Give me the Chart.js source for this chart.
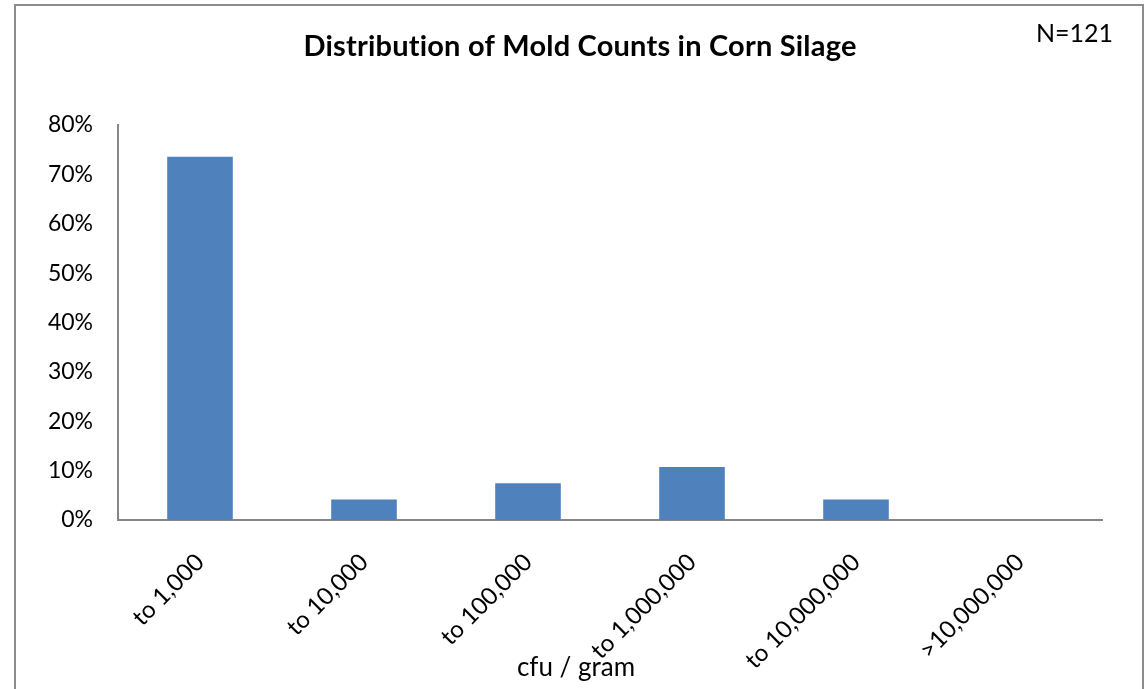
<!DOCTYPE html>
<html>
<head>
<meta charset="utf-8">
<script src="https://cdn.jsdelivr.net/npm/chart.js@4.4.1/dist/chart.umd.min.js"></script>
<style>
  html, body { margin: 0; padding: 0; background: #fff; overflow: hidden; }
  #wrap { width: 1146px; height: 689px; }
</style>
</head>
<body>
<div id="wrap"><canvas id="chart" width="1146" height="689"></canvas></div>
<script>
const categories = ["to 1,000", "to 10,000", "to 100,000", "to 1,000,000", "to 10,000,000", ">10,000,000"];
const percentages = [73.55, 4.13, 7.44, 10.74, 4.13, 0];
const yTicks = [0, 10, 20, 30, 40, 50, 60, 70, 80];
const chartTitle = "Distribution of Mold Counts in Corn Silage";
const sampleNote = "N=121";
const xAxisTitle = "cfu / gram";

const FONT = "Lato, 'Liberation Sans', sans-serif";
const AXIS_GRAY = "#868686";

// frame, title, N= note and x axis caption
const extras = {
  id: "extras",
  beforeDraw(chart) {
    const ctx = chart.ctx;
    ctx.save();
    ctx.fillStyle = "#fff";
    ctx.fillRect(0, 0, chart.width, chart.height);
    ctx.strokeStyle = "#8c8c8c";
    ctx.lineWidth = 2;
    ctx.strokeRect(15, 5, 1128, 720);
    ctx.restore();
  },
  afterDraw(chart) {
    const ctx = chart.ctx;
    ctx.save();
    ctx.fillStyle = "#000";
    ctx.textAlign = "center";
    ctx.textBaseline = "alphabetic";
    ctx.font = "bold 29px " + FONT;
    ctx.letterSpacing = "0.2px"; // keeps "ti" from joining
    ctx.fillText(chartTitle, 580, 56);
    ctx.letterSpacing = "0px";
    ctx.font = "25px " + FONT;
    ctx.textAlign = "left";
    ctx.fillText(sampleNote, 1036, 42);
    ctx.textAlign = "center";
    ctx.textBaseline = "middle";
    ctx.font = "26px " + FONT;
    ctx.fillText(xAxisTitle, 576, 668);
    ctx.restore();
  }
};

new Chart(document.getElementById("chart"), {
  type: "bar",
  data: {
    labels: categories,
    datasets: [{
      data: percentages,
      backgroundColor: "#4F81BD",
      barPercentage: 0.4,
      categoryPercentage: 1.0
    }]
  },
  options: {
    responsive: false,
    animation: false,
    layout: { padding: { left: 0, right: 44, top: 125, bottom: 0 } },
    plugins: {
      legend: { display: false },
      tooltip: { enabled: false },
      title: { display: false }
    },
    scales: {
      x: {
        grid: { display: false, drawTicks: false },
        border: { display: true, color: AXIS_GRAY, width: 2 },
        ticks: {
          color: "#000",
          font: { family: FONT, size: 24 },
          maxRotation: 45,
          minRotation: 45,
          padding: 28,
          autoSkip: false
        },
        afterFit(scale) { scale.height = 169; }
      },
      y: {
        min: 0,
        max: 80,
        grid: { display: false, drawTicks: false },
        border: { display: true, color: AXIS_GRAY, width: 2 },
        afterBuildTicks(scale) { scale.ticks = yTicks.map(v => ({ value: v })); },
        ticks: {
          color: "#000",
          font: { family: FONT, size: 23 },
          padding: 25,
          callback: v => v + "%"
        },
        afterFit(scale) { scale.width = 118; }
      }
    }
  },
  plugins: [extras]
});
</script>
</body>
</html>
